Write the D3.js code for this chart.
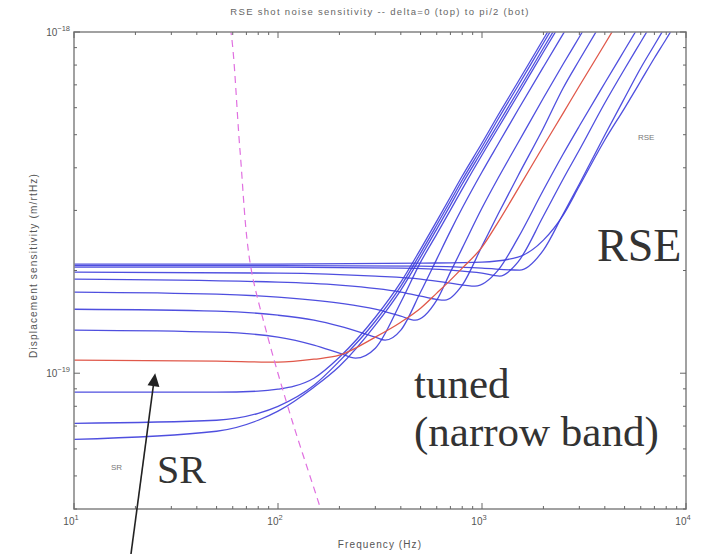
<!DOCTYPE html>
<html><head><meta charset="utf-8">
<script src="https://cdn.jsdelivr.net/npm/d3@7"></script>
<style>html,body{margin:0;padding:0;background:#fff;}svg{display:block;}</style>
</head><body>
<svg id="chart" width="702" height="554"></svg>
<script>
// ---- data (frequency Hz, displacement sensitivity m/rtHz) ----
const titleText = "RSE shot noise sensitivity -- delta=0 (top) to pi/2 (bot)";
const xLabel = "Frequency (Hz)";
const yLabel = "Displacement sensitivity (m/rtHz)";
const xTickExps = [1, 2, 3, 4];
const yTickExps = [-19, -18];

const curveRSE = [[10,2.087e-19],[100,2.087e-19],[500,2.101e-19],[1000,2.116e-19],[1500,2.189e-19],[2000,2.455e-19],[2500,2.907e-19],[3000,3.536e-19],[4000,4.824e-19],[5000,5.986e-19],[6000,7.183e-19],[7000,8.389e-19],[8000,9.538e-19],[10000,1.192e-18]];
const curve2 = [[10,2.067e-19],[100,2.067e-19],[500,2.059e-19],[1000,2.032e-19],[1530,2.005e-19],[2000,2.295e-19],[2500,2.927e-19],[3000,3.585e-19],[4000,4.989e-19],[5000,6.405e-19],[6000,7.842e-19],[7000,9.159e-19],[8000,1.048e-18]];
const curve3 = [[10,2.046e-19],[100,2.046e-19],[400,2.032e-19],[700,2.005e-19],[1000,1.965e-19],[1220,1.925e-19],[1500,2.116e-19],[2000,2.888e-19],[2500,3.708e-19],[3000,4.509e-19],[4000,6.192e-19],[5000,7.790e-19],[6000,9.347e-19],[7000,1.091e-18]];
const curve4 = [[10,1.978e-19],[100,1.965e-19],[300,1.925e-19],[500,1.887e-19],[700,1.836e-19],[924,1.800e-19],[1200,2.005e-19],[1500,2.488e-19],[2000,3.442e-19],[2500,4.389e-19],[3000,5.302e-19],[4000,7.087e-19],[5000,8.855e-19],[6000,1.062e-18]];
const curveMid = [[10,1.092e-19],[50,1.085e-19],[100,1.077e-19],[150,1.099e-19],[200,1.129e-19],[300,1.276e-19],[400,1.411e-19],[500,1.551e-19],[600,1.717e-19],[700,1.874e-19],[800,2.032e-19],[1000,2.342e-19],[1200,2.773e-19],[1500,3.465e-19],[2000,4.633e-19],[2500,5.787e-19],[3000,6.945e-19],[4000,9.221e-19],[5000,1.152e-18]];
const curve6 = [[10,1.887e-19],[100,1.849e-19],[200,1.812e-19],[400,1.729e-19],[500,1.682e-19],[658,1.637e-19],[800,1.812e-19],[1000,2.358e-19],[1200,2.927e-19],[1500,3.784e-19],[2000,5.231e-19],[2500,6.852e-19],[3000,8.277e-19],[4000,1.106e-18]];
const curve7 = [[10,1.729e-19],[50,1.705e-19],[100,1.671e-19],[200,1.604e-19],[300,1.540e-19],[400,1.469e-19],[470,1.430e-19],[600,1.637e-19],[700,1.978e-19],[800,2.326e-19],[1000,3.048e-19],[1200,3.733e-19],[1500,4.727e-19],[2000,6.405e-19],[2500,8.056e-19],[3000,9.668e-19],[3500,1.129e-18]];
const curve8 = [[10,1.540e-19],[50,1.520e-19],[100,1.479e-19],[150,1.430e-19],[200,1.374e-19],[300,1.276e-19],[335,1.250e-19],[400,1.337e-19],[500,1.729e-19],[600,2.160e-19],[700,2.609e-19],[800,3.048e-19],[1000,3.887e-19],[1200,4.695e-19],[1500,5.906e-19],[2000,7.896e-19],[2500,9.870e-19],[3000,1.184e-18]];
const curve9 = [[10,1.337e-19],[50,1.319e-19],[100,1.276e-19],[150,1.209e-19],[200,1.145e-19],[240,1.107e-19],[300,1.184e-19],[400,1.615e-19],[500,2.116e-19],[600,2.557e-19],[700,3.007e-19],[800,3.465e-19],[1000,4.360e-19],[1200,5.231e-19],[1500,6.536e-19],[2000,8.736e-19],[2500,1.091e-18]];
const curve10 = [[10,0.880e-19],[50,0.880e-19],[80,0.886e-19],[100,0.898e-19],[120,0.916e-19],[150,0.967e-19],[200,1.114e-19],[300,1.459e-19],[400,1.849e-19],[500,2.311e-19],[600,2.792e-19],[700,3.284e-19],[800,3.784e-19],[1000,4.727e-19],[1200,5.710e-19],[1500,7.135e-19],[2000,9.538e-19],[2500,1.192e-18]];
const curve11 = [[10,0.713e-19],[50,0.728e-19],[80,0.763e-19],[100,0.800e-19],[150,0.922e-19],[200,1.085e-19],[300,1.420e-19],[400,1.800e-19],[500,2.249e-19],[600,2.718e-19],[700,3.196e-19],[800,3.683e-19],[1000,4.601e-19],[1200,5.559e-19],[1500,6.945e-19],[2000,9.284e-19],[2500,1.160e-18]];
const curveSR = [[10,0.640e-19],[50,0.676e-19],[80,0.728e-19],[100,0.774e-19],[150,0.910e-19],[200,1.048e-19],[300,1.383e-19],[400,1.752e-19],[500,2.189e-19],[600,2.645e-19],[700,3.110e-19],[800,3.585e-19],[1000,4.479e-19],[1200,5.374e-19],[1500,6.714e-19],[2000,8.975e-19],[2500,1.122e-18]];
const dashedLine = [[55,1.2e-18],[58.8,1.0e-18],[65.1,4.509e-19],[72.9,2.115e-19],[87.3,1.337e-19],[117.1,0.728e-19],[162.5,0.3966e-19],[175,0.34e-19]];

const blueCurves = [curveRSE, curve2, curve3, curve4, curve6, curve7, curve8, curve9, curve10, curve11, curveSR];
const redCurves = [curveMid];

// ---- layout ----
const svg = d3.select("#chart");
const L = 74, R = 686, T = 32, B = 509;
const x = d3.scaleLog().domain([10, 1e4]).range([L, R]);
const y = d3.scaleLog().domain([4e-20, 1e-18]).range([B, T]);

svg.append("defs").append("clipPath").attr("id", "clip")
  .append("rect").attr("x", L).attr("y", T).attr("width", R - L).attr("height", B - T);

const line = d3.line().x(d => x(d[0])).y(d => y(d[1])).curve(d3.curveMonotoneX);

const plot = svg.append("g").attr("clip-path", "url(#clip)");
blueCurves.forEach(c => plot.append("path").attr("d", line(c))
  .attr("fill", "none").attr("stroke", "#3c3cdc").attr("stroke-width", 1.3).attr("stroke-opacity", 0.9));
redCurves.forEach(c => plot.append("path").attr("d", line(c))
  .attr("fill", "none").attr("stroke", "#e0584a").attr("stroke-width", 1.3));
plot.append("path").attr("d", d3.line().x(d => x(d[0])).y(d => y(d[1])).curve(d3.curveCatmullRom)(dashedLine))
  .attr("fill", "none").attr("stroke", "#e070e0").attr("stroke-width", 1.2).attr("stroke-dasharray", "7,5");

// ---- axes (MATLAB style box with inward ticks) ----
const axCol = "#8a8a8a";
const ax = svg.append("g");
ax.append("rect").attr("x", L).attr("y", T).attr("width", R - L).attr("height", B - T)
  .attr("fill", "none").attr("stroke", axCol).attr("stroke-width", 1.6);

const xMinor = [];
for (let e = 1; e < 4; e++) for (let m = 2; m <= 9; m++) xMinor.push(m * Math.pow(10, e));
const xMajor = xTickExps.map(e => Math.pow(10, e));
const yMinor = [];
for (let e = -20; e < -18; e++) for (let m = 2; m <= 9; m++) {
  const v = m * Math.pow(10, e);
  if (v >= 4e-20 && v <= 1e-18) yMinor.push(v);
}
const yMajor = yTickExps.map(e => Math.pow(10, e));

function xTicks(vals, len) {
  vals.forEach(v => {
    const px = x(v);
    ax.append("line").attr("x1", px).attr("x2", px).attr("y1", B).attr("y2", B - len).attr("stroke", "#666").attr("stroke-width", 1);
    ax.append("line").attr("x1", px).attr("x2", px).attr("y1", T).attr("y2", T + len).attr("stroke", "#666").attr("stroke-width", 1);
  });
}
function yTicks(vals, len) {
  vals.forEach(v => {
    const py = y(v);
    ax.append("line").attr("y1", py).attr("y2", py).attr("x1", L).attr("x2", L + len).attr("stroke", "#666").attr("stroke-width", 1);
    ax.append("line").attr("y1", py).attr("y2", py).attr("x1", R).attr("x2", R - len).attr("stroke", "#666").attr("stroke-width", 1);
  });
}
xTicks(xMinor, 3); xTicks(xMajor, 6);
yTicks(yMinor, 3); yTicks(yMajor, 6);

const font = "'Liberation Sans', Arial, sans-serif";
xTickExps.forEach(e => {
  const t = svg.append("text").attr("x", x(Math.pow(10, e)) - 3).attr("y", B + 16)
    .attr("text-anchor", "middle").attr("font-family", font).attr("font-size", 10).attr("fill", "#555");
  t.append("tspan").text("10");
  t.append("tspan").attr("dy", -5).attr("font-size", 7.5).text(e);
});
yTickExps.forEach(e => {
  const t = svg.append("text").attr("x", L - 4).attr("y", y(Math.pow(10, e)) + 4)
    .attr("text-anchor", "end").attr("font-family", font).attr("font-size", 10).attr("fill", "#555");
  t.append("tspan").text("10");
  t.append("tspan").attr("dy", -5).attr("font-size", 7.5).text("\u2212" + Math.abs(e));
});

svg.append("text").attr("x", (L + R) / 2).attr("y", 15).attr("text-anchor", "middle")
  .attr("font-family", font).attr("font-size", 9.5).attr("letter-spacing", 1.3).attr("fill", "#666").text(titleText);
svg.append("text").attr("x", (L + R) / 2).attr("y", 548).attr("text-anchor", "middle")
  .attr("font-family", font).attr("font-size", 10).attr("letter-spacing", 1.1).attr("fill", "#555").text(xLabel);
svg.append("text").attr("transform", `translate(37,${(T + B) / 2 - 5}) rotate(-90)`).attr("text-anchor", "middle")
  .attr("font-family", font).attr("font-size", 10).attr("letter-spacing", 1.2).attr("fill", "#555").text(yLabel);

// small in-plot labels
svg.append("text").attr("x", 638).attr("y", 140).attr("font-family", font).attr("font-size", 8).attr("fill", "#777").text("RSE");
svg.append("text").attr("x", 111).attr("y", 470).attr("font-family", font).attr("font-size", 8).attr("fill", "#777").text("SR");

// big annotations
const serif = "'Liberation Serif', 'Times New Roman', serif";
const ann = [["RSE", 597, 261, 46], ["tuned", 414, 398, 43], ["(narrow band)", 414, 446, 43], ["SR", 157, 483, 40]];
ann.forEach(a => svg.append("text").attr("x", a[1]).attr("y", a[2]).attr("font-family", serif)
  .attr("font-size", a[3]).attr("fill", "#333").text(a[0]));

// arrow pointing to the SR curve
const tip = [x(25), y(1.0e-19)];
const tail = [tip[0] - 25, 560];
svg.append("line").attr("x1", tail[0]).attr("y1", tail[1]).attr("x2", tip[0] - 1.5).attr("y2", tip[1] + 10)
  .attr("stroke", "#222").attr("stroke-width", 1.6);
const ang = Math.atan2(tip[1] - tail[1], tip[0] - tail[0]);
const hl = 13, hw = 6;
const bx = tip[0] - hl * Math.cos(ang), by = tip[1] - hl * Math.sin(ang);
svg.append("path").attr("d", `M${tip[0]},${tip[1]} L${bx + hw * Math.sin(ang)},${by - hw * Math.cos(ang)} L${bx - hw * Math.sin(ang)},${by + hw * Math.cos(ang)} Z`)
  .attr("fill", "#222");
</script>
</body></html>
